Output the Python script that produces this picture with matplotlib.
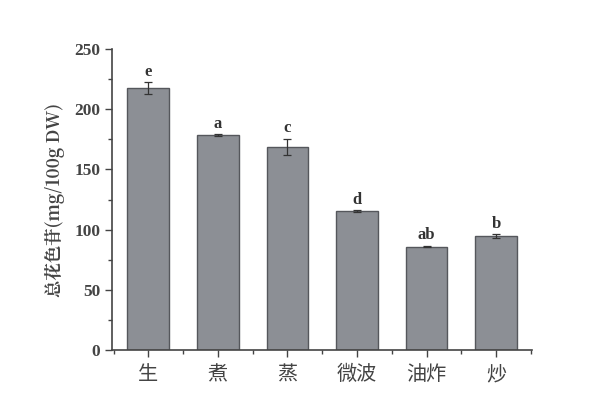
import numpy as np
import matplotlib.pyplot as plt
from matplotlib.ticker import MultipleLocator

categories = ['生', '煮', '蒸', '微波', '油炸', '炒']
values = [217.5, 178.5, 168.5, 115.5, 86.0, 94.8]
errors = [4.6, 0.6, 6.8, 0.6, 0.6, 1.5]
letters = ['e', 'a', 'c', 'd', 'ab', 'b']

serif = ['Liberation Serif', 'Noto Serif CJK SC', 'Noto Sans CJK SC']
cjk = ['Noto Sans CJK SC', 'Liberation Serif']

fig = plt.figure(figsize=(6, 4.17), dpi=100)
ax = fig.add_axes([0.187, 0.16, 0.70, 0.723])

x = np.arange(len(categories))
ax.bar(x, values, width=0.6, color='#8c8f95', edgecolor='#55575c', linewidth=1.0,
       yerr=errors, capsize=3, error_kw=dict(ecolor='#333333', elinewidth=0.9, capthick=0.9),
       zorder=2)

for xi, v, e, t in zip(x, values, errors, letters):
    ax.text(xi, v + e + 2, t, ha='center', va='bottom', fontsize=12,
            fontweight='bold', family=serif, color='#333333')

ax.set_xlim(-0.52, 5.52)
ax.set_ylim(0, 250)
ax.set_xticks(x)
ax.set_xticklabels(categories, family=cjk, fontsize=14.5, color='#444444')
ax.xaxis.set_minor_locator(MultipleLocator(0.5))
ax.yaxis.set_major_locator(MultipleLocator(50))
ax.yaxis.set_minor_locator(MultipleLocator(25))
for lab in ax.get_yticklabels():
    lab.set_family(serif)
    lab.set_fontweight('bold')
    lab.set_fontsize(12.5)
    lab.set_color('#444444')

ax.tick_params(axis='both', which='major', direction='out', length=5, width=1.0, color='#444444')
ax.tick_params(axis='both', which='minor', direction='out', length=3, width=1.0, color='#444444')
ax.tick_params(axis='x', pad=5)

for s in ['top', 'right']:
    ax.spines[s].set_visible(False)
for s in ['left', 'bottom']:
    ax.spines[s].set_color('#444444')
    ax.spines[s].set_linewidth(1.2)

ax.set_ylabel('总花色苷(mg/100g DW)', family=['Noto Serif CJK SC', 'Liberation Serif', 'Noto Sans CJK SC'],
              fontsize=12.5, fontweight='bold', color='#444444', labelpad=7)

fig.savefig('out.png', dpi=100)
